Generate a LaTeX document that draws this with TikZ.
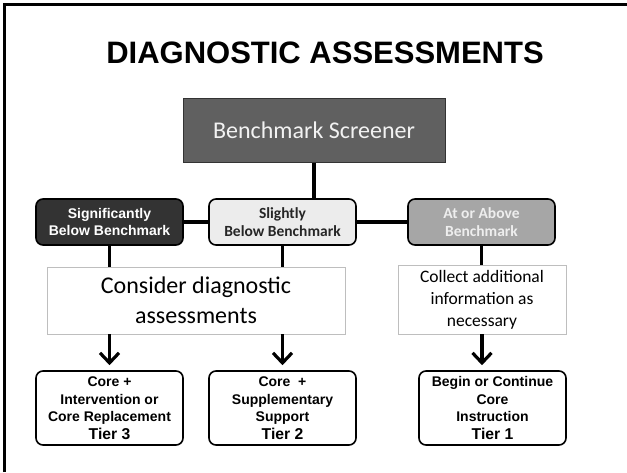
\documentclass[tikz,border=0pt]{standalone}
\usepackage{fontspec}
\setmainfont{Liberation Sans}
\newfontfamily\carlito{Carlito}
\usetikzlibrary{positioning,arrows.meta,calc}
\definecolor{screenbg}{RGB}{96,96,96}
\definecolor{sigbg}{RGB}{51,51,51}
\definecolor{slightbg}{RGB}{236,236,236}
\definecolor{abovebg}{RGB}{166,166,166}
\definecolor{abovetxt}{RGB}{238,238,238}
\definecolor{noteline}{RGB}{190,190,190}
\tikzset{
  blk/.style={draw,rounded corners=7pt,line width=1.6pt,align=center,minimum width=147pt,minimum height=46pt,inner sep=2pt},
  lev/.style={blk,font=\fontsize{14}{17}\selectfont\bfseries},
  levc/.style={blk,font=\carlito\fontsize{15.5}{18}\selectfont\bfseries},
  tier/.style={blk,minimum height=74pt,font=\fontsize{14}{17.5}\selectfont\bfseries},
  note/.style={draw=noteline,line width=0.8pt,fill=white,align=center,inner sep=2pt},
  ln/.style={line width=3.5pt},
  ar/.style={line width=3.5pt,-{Straight Barb[length=10pt,width=19pt,line width=3.2pt]},shorten >=5pt},
}
\begin{document}
\begin{tikzpicture}[x=1pt,y=-1pt]
  \useasboundingbox (0,0) rectangle (627,472);
  \draw[line width=2.5pt] (4.5,472) -- (4.5,4.5) -- (627,4.5);
  \node (title) at (325,53) {\fontsize{31}{31}\selectfont\bfseries DIAGNOSTIC ASSESSMENTS};
  % screener and levels
  \node[draw=black!80,line width=1pt,fill=screenbg,text=black!5,minimum width=262pt,minimum height=64pt,font=\carlito\fontsize{24}{24}\selectfont] (screener) at (314,130) {Benchmark Screener};
  \node[lev,fill=sigbg,text=white] (sig) at (109.5,222) {Significantly\\Below Benchmark};
  \node[levc,fill=slightbg,text=black!85] (slight) at (282.5,222) {Slightly\\Below Benchmark};
  \node[levc,fill=abovebg,text=abovetxt] (above) at (481.5,222) {At or Above\\Benchmark};
  % notes
  \node[note,minimum width=298pt,minimum height=67pt,font=\carlito\fontsize{24}{30}\selectfont] (consider) at (196,300.5) {Consider diagnostic\\assessments};
  \node[note,minimum width=168pt,minimum height=69pt,font=\carlito\fontsize{17.5}{22}\selectfont] (collect) at (482,299.5) {Collect additional\\information as\\necessary};
  % tiers
  \node[tier,fill=white] (tierthree) at (109.5,408) {Core +\\Intervention or\\Core Replacement\\{\fontsize{15.7}{17.5}\selectfont Tier 3}};
  \node[tier,fill=white] (tiertwo) at (282.5,408) {Core~ +\\Supplementary\\Support\\{\fontsize{15.7}{17.5}\selectfont Tier 2}};
  \node[tier,fill=white] (tierone) at (492.5,408) {Begin or Continue\\Core\\Instruction\\{\fontsize{15.7}{17.5}\selectfont Tier 1}};
  % connectors
  \draw[ln] (screener.south) -- (screener.south |- slight.north);
  \draw[ln] (sig.east) -- (slight.west);
  \draw[ln] (slight.east) -- (above.west);
  \draw[ln] (sig.south) -- (sig.south |- consider.north);
  \draw[ln] (slight.south) -- (slight.south |- consider.north);
  \draw[ln] (above.south) -- (above.south |- collect.north);
  \draw[ar] (consider.south -| tierthree.north) -- (tierthree.north);
  \draw[ar] (consider.south -| tiertwo.north) -- (tiertwo.north);
  \draw[ar] (collect.south) -- (collect.south |- tierone.north);
\end{tikzpicture}
\end{document}
